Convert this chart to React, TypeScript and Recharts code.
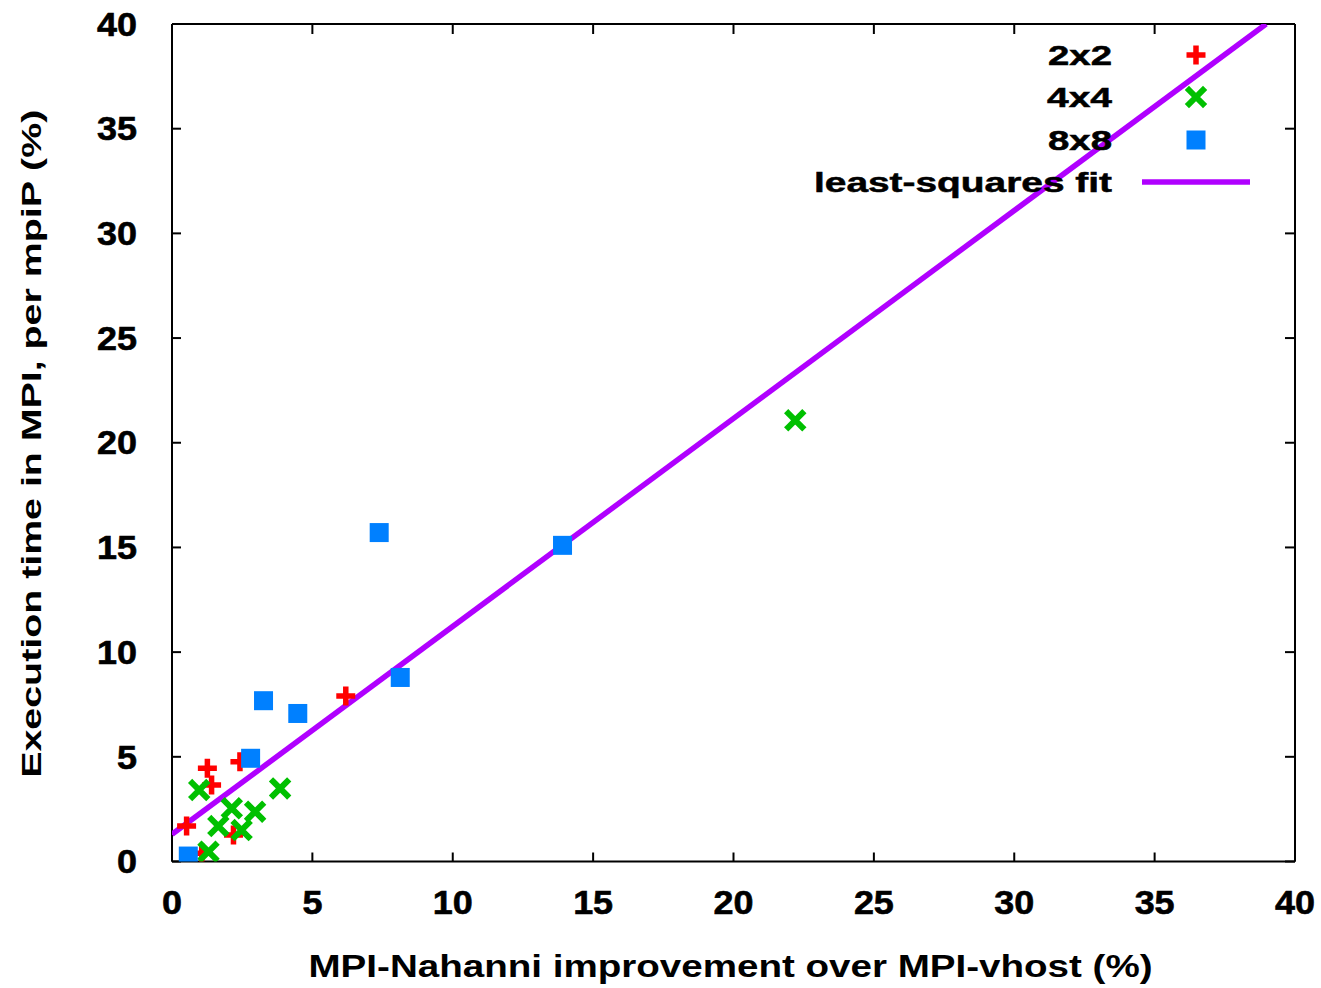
import React from 'react'
import { ScatterChart, Scatter, XAxis, YAxis, Legend } from 'recharts'

const FONT = '"Liberation Sans", Arial, sans-serif'

const TICKS = [0, 5, 10, 15, 20, 25, 30, 35, 40]

// [improvement %, execution time in MPI %]
const grid2x2 = [
  { x: 0.52, y: 1.69 },
  { x: 1.26, y: 4.45 },
  { x: 1.41, y: 3.65 },
  { x: 2.42, y: 4.76 },
  { x: 2.19, y: 1.26 },
  { x: 1.06, y: 0.39 },
  { x: 6.19, y: 7.9 },
]

const grid4x4 = [
  { x: 0.97, y: 3.41 },
  { x: 3.85, y: 3.49 },
  { x: 2.13, y: 2.54 },
  { x: 2.96, y: 2.38 },
  { x: 1.65, y: 1.69 },
  { x: 2.48, y: 1.5 },
  { x: 1.3, y: 0.47 },
  { x: 22.2, y: 21.07 },
]

const grid8x8 = [
  { x: 0.58, y: 0.26 },
  { x: 2.8, y: 4.93 },
  { x: 3.26, y: 7.68 },
  { x: 4.48, y: 7.07 },
  { x: 8.13, y: 8.79 },
  { x: 7.38, y: 15.71 },
  { x: 13.91, y: 15.1 },
]

const fitLine = [
  { x: 0, y: 1.3 },
  { x: 38.97, y: 40 },
]

const RED = '#ff0000'
const GREEN = '#00c000'
const BLUE = '#0080ff'
const PURPLE = '#b000ff'

const LEGEND = [
  { name: '2x2', kind: 'plus', w: 64 },
  { name: '4x4', kind: 'cross', w: 65 },
  { name: '8x8', kind: 'square', w: 64 },
  { name: 'least-squares fit', kind: 'line', w: 298 },
]

function Plus({ cx, cy }: any) {
  const h = 9.5
  return (
    <path d={`M${cx - h},${cy}H${cx + h}M${cx},${cy - h}V${cy + h}`} stroke={RED} strokeWidth={5.5} fill="none" />
  )
}

function Cross({ cx, cy }: any) {
  const h = 7
  return (
    <path
      d={`M${cx - h},${cy - h}L${cx + h},${cy + h}M${cx - h},${cy + h}L${cx + h},${cy - h}`}
      stroke={GREEN}
      strokeWidth={6}
      strokeLinecap="square"
      fill="none"
    />
  )
}

function Square({ cx, cy }: any) {
  return <rect x={cx - 9.5} y={cy - 9.5} width={19} height={19} fill={BLUE} />
}

const NoDot = () => <g />

function XTick({ x, y, payload }: any) {
  const s = String(payload.value)
  return (
    <text x={x} y={y} dy="0.71em" textAnchor="middle" fontFamily={FONT} fontWeight="bold" fontSize={33}
      fill="#000" stroke="#000" strokeWidth={0.6} textLength={s.length * 20} lengthAdjust="spacingAndGlyphs">
      {s}
    </text>
  )
}

function YTick({ x, y, payload }: any) {
  const s = String(payload.value)
  return (
    <text x={x} y={y} dy="0.355em" textAnchor="end" fontFamily={FONT} fontWeight="bold" fontSize={33}
      fill="#000" stroke="#000" strokeWidth={0.6} textLength={s.length * 20} lengthAdjust="spacingAndGlyphs">
      {s}
    </text>
  )
}

function XTitle({ viewBox }: any) {
  const cx = viewBox.x + viewBox.width / 2 - 3
  const y = viewBox.y + 115.5
  return (
    <text x={cx} y={y} textAnchor="middle" fontFamily={FONT} fontWeight="bold" fontSize={31}
      fill="#000" textLength={844} lengthAdjust="spacingAndGlyphs">
      MPI-Nahanni improvement over MPI-vhost (%)
    </text>
  )
}

function YTitle({ viewBox }: any) {
  const x = 41
  const cy = viewBox.y + viewBox.height / 2 + 1
  return (
    <text x={x} y={cy} transform={`rotate(-90 ${x} ${cy})`} textAnchor="middle" fontFamily={FONT}
      fontWeight="bold" fontSize={27} fill="#000" textLength={668} lengthAdjust="spacingAndGlyphs">
      Execution time in MPI, per mpiP (%)
    </text>
  )
}

function LegendBox() {
  const rows = [27, 69, 112, 154]
  return (
    <svg width={480} height={180} style={{ display: 'block', overflow: 'visible' }}>
      {LEGEND.map((it, i) => {
        const cy = rows[i]
        return (
          <g key={it.name}>
            <text x={322} y={cy} dy="0.36em" textAnchor="end" fontFamily={FONT} fontWeight="bold"
              fontSize={28} fill="#000" stroke="#000" strokeWidth={0.5} textLength={it.w} lengthAdjust="spacingAndGlyphs">
              {it.name}
            </text>
            {it.kind === 'plus' && <Plus cx={406} cy={cy} />}
            {it.kind === 'cross' && <Cross cx={406} cy={cy} />}
            {it.kind === 'square' && <Square cx={406} cy={cy} />}
            {it.kind === 'line' && <line x1={352} x2={460} y1={cy} y2={cy} stroke={PURPLE} strokeWidth={5.5} />}
          </g>
        )
      })}
    </svg>
  )
}

const axisLine = { stroke: '#000', strokeWidth: 2 }
const tickLine = { stroke: '#000', strokeWidth: 2 }

export default function App() {
  return (
    <div style={{ position: 'absolute', left: 0, top: 0, width: 1321, height: 988, background: '#fff' }}>
      <ScatterChart width={1321} height={988} margin={{ top: 23, right: 25, bottom: 66.5, left: 112 }}>
        <XAxis xAxisId="b" dataKey="x" type="number" domain={[0, 40]} ticks={TICKS} height={60}
          axisLine={axisLine} tickLine={tickLine} tickSize={-9} tickMargin={38.5} tick={<XTick />}
          label={XTitle} allowDataOverflow />
        <XAxis xAxisId="t" orientation="top" dataKey="x" type="number" domain={[0, 40]} ticks={TICKS}
          height={1} axisLine={axisLine} tickLine={tickLine} tickSize={-10} tick={NoDot} allowDataOverflow />
        <YAxis yAxisId="l" dataKey="y" type="number" domain={[0, 40]} ticks={TICKS} width={60}
          axisLine={axisLine} tickLine={tickLine} tickSize={-9} tickMargin={44} tick={<YTick />}
          label={YTitle} allowDataOverflow />
        <YAxis yAxisId="r" orientation="right" dataKey="y" type="number" domain={[0, 40]} ticks={TICKS}
          width={1} axisLine={axisLine} tickLine={tickLine} tickSize={-10} tick={NoDot} allowDataOverflow />
        <Scatter name="least-squares fit" data={fitLine} xAxisId="t" yAxisId="r" line={{ stroke: PURPLE, strokeWidth: 5.5 }}
          lineType="joint" shape={NoDot} isAnimationActive={false} />
        <Scatter name="2x2" data={grid2x2} xAxisId="b" yAxisId="l" shape={Plus} isAnimationActive={false} />
        <Scatter name="4x4" data={grid4x4} xAxisId="b" yAxisId="l" shape={Cross} isAnimationActive={false} />
        <Scatter name="8x8" data={grid8x8} xAxisId="b" yAxisId="l" shape={Square} isAnimationActive={false} />
        <Legend layout="vertical" align="center" verticalAlign="middle"
          wrapperStyle={{ left: 790, top: 28, width: 480, height: 180 }} content={() => <LegendBox />} />
      </ScatterChart>
    </div>
  )
}
